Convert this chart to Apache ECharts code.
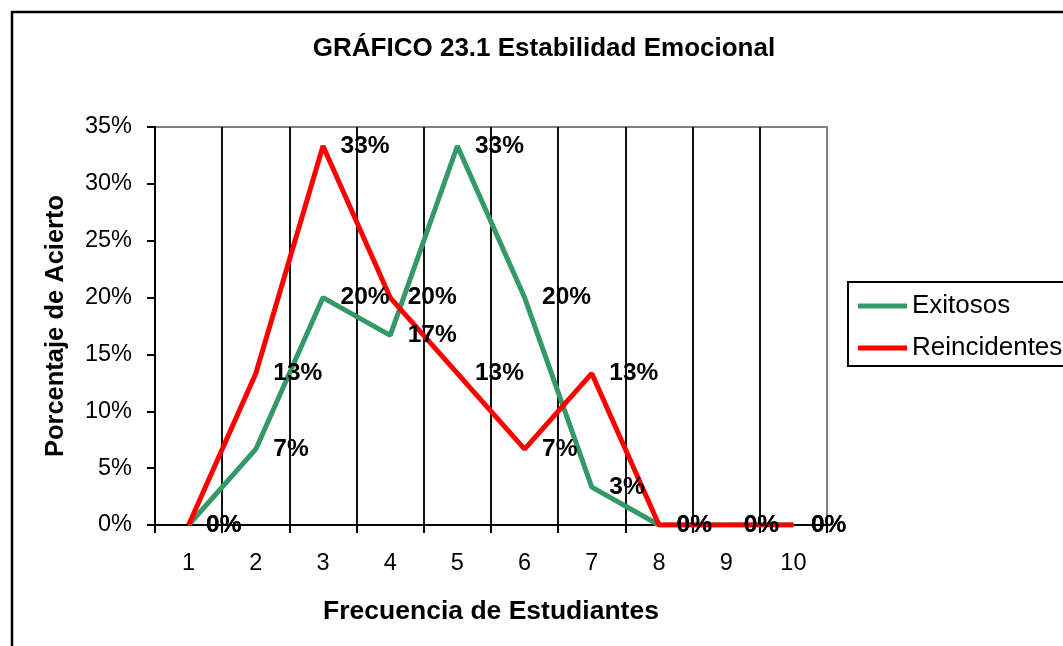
<!DOCTYPE html>
<html>
<head>
<meta charset="utf-8">
<script src="https://cdn.jsdelivr.net/npm/echarts@6/dist/echarts.min.js"></script>
<style>
  html, body { margin: 0; padding: 0; background: #fff; }
  #chart { width: 1063px; height: 646px; }
</style>
</head>
<body>
<div id="chart"></div>
<script>
// datos (porcentaje)
var categorias = ["1", "2", "3", "4", "5", "6", "7", "8", "9", "10"];
var exitosos = [0, 6.67, 20, 16.67, 33.33, 20, 3.33, 0, 0, 0];
var reincidentes = [0, 13.33, 33.33, 20, 13.33, 6.67, 13.33, 0, 0, 0];
var ticksY = [0, 5, 10, 15, 20, 25, 30, 35];

var fuente = "Liberation Sans, Arial, sans-serif";

var chart = echarts.init(document.getElementById("chart"));

function serie(nombre, datos, color) {
  return {
    name: nombre,
    type: "line",
    data: datos,
    symbol: "circle",
    symbolSize: 1,
    itemStyle: { color: color },
    lineStyle: { color: color, width: 5 },
    label: {
      show: true,
      position: "right",
      distance: 17,
      color: "#000",
      fontFamily: fuente,
      fontWeight: "bold",
      fontSize: 24.5,
      formatter: function (p) { return Math.round(p.value) + "%"; }
    }
  };
}

var option = {
  animation: false,
  backgroundColor: "#fff",
  title: {
    text: "GRÁFICO 23.1 Estabilidad Emocional",
    left: 544,
    textAlign: "center",
    top: 36,
    padding: 0,
    textStyle: { fontFamily: fuente, fontWeight: "bold", fontSize: 26, color: "#000" }
  },
  legend: {
    orient: "vertical",
    left: 858,
    top: 291,
    padding: 0,
    itemWidth: 49,
    itemHeight: 5,
    itemGap: 12,
    icon: "rect",
    textStyle: { fontFamily: fuente, fontSize: 26, color: "#000", lineHeight: 30 },
    data: ["Exitosos", "Reincidentes"]
  },
  graphic: [
    {
      type: "rect",
      shape: { x: 12, y: 12, width: 1100, height: 700 },
      style: { fill: "none", stroke: "#000", lineWidth: 2.5 },
      silent: true
    },
    {
      type: "rect",
      shape: { x: 848, y: 282, width: 260, height: 84 },
      style: { fill: "none", stroke: "#000", lineWidth: 2 },
      silent: true
    }
  ],
  grid: {
    left: 155,
    right: 236,
    top: 127,
    bottom: 121,
    show: true,
    borderColor: "#808080",
    borderWidth: 2
  },
  xAxis: {
    type: "category",
    data: categorias,
    boundaryGap: true,
    name: "Frecuencia de Estudiantes",
    nameLocation: "middle",
    nameGap: 73,
    nameTextStyle: { fontFamily: fuente, fontWeight: "bold", fontSize: 26.5, color: "#000" },
    axisLine: { lineStyle: { color: "#000", width: 2 } },
    axisTick: { show: true, length: 8, lineStyle: { color: "#000", width: 2 } },
    axisLabel: { fontFamily: fuente, fontSize: 23.5, color: "#000", margin: 27 },
    splitLine: {
      show: true,
      showMinLine: false,
      showMaxLine: false,
      lineStyle: { color: "#111", width: 2 }
    }
  },
  yAxis: {
    type: "value",
    min: ticksY[0],
    max: ticksY[ticksY.length - 1],
    interval: 5,
    name: "Porcentaje de Acierto",
    nameLocation: "middle",
    nameGap: 86,
    nameTextStyle: { fontFamily: fuente, fontWeight: "bold", fontSize: 25.5, color: "#000" },
    axisLine: { show: true, lineStyle: { color: "#000", width: 2 } },
    axisTick: { show: true, length: 8, lineStyle: { color: "#000", width: 2 } },
    axisLabel: { fontFamily: fuente, fontSize: 23.5, color: "#000", margin: 23, formatter: "{value}%" },
    splitLine: { show: false }
  },
  series: [
    serie("Exitosos", exitosos, "#339966"),
    serie("Reincidentes", reincidentes, "#ff0000")
  ]
};

chart.setOption(option);
</script>
</body>
</html>
